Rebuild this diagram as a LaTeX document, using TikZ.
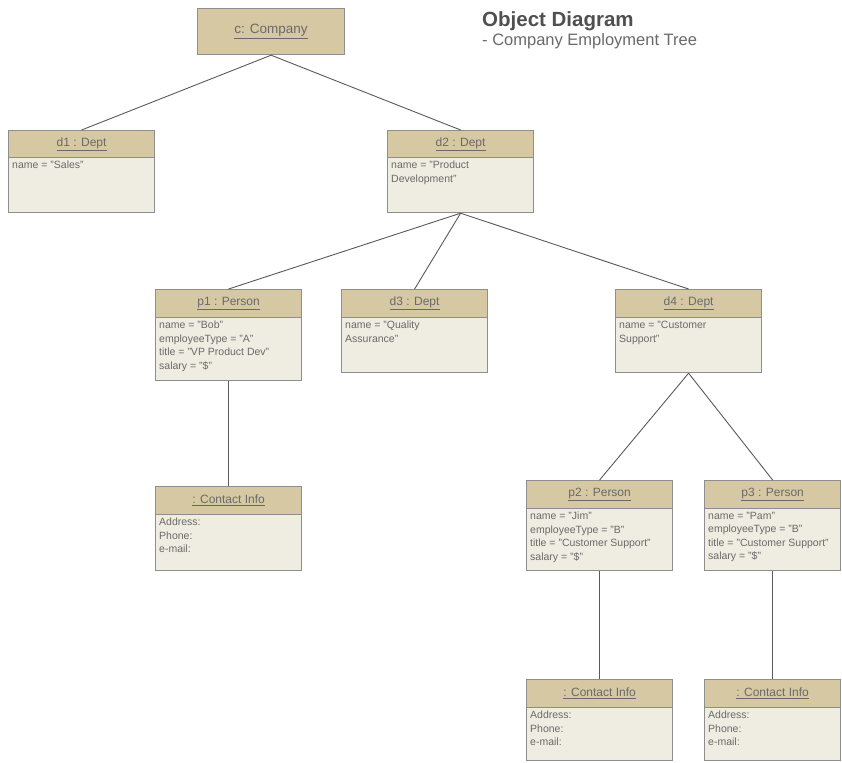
\documentclass[tikz,border=0pt]{standalone}
\usepackage{fontspec}
\setmainfont{Liberation Sans}
\begin{document}
\definecolor{hdrfill}{HTML}{D5C8A2}
\definecolor{bodyfill}{HTML}{EFECE1}
\definecolor{boxline}{HTML}{8E8E8E}
\definecolor{linkline}{HTML}{5A5A5A}
\definecolor{txt}{HTML}{6A6A6A}
\definecolor{titletxt}{HTML}{505050}
\tikzset{
  hdr/.style={draw=boxline, line width=1.2pt, fill=hdrfill, inner sep=0pt, anchor=north west,
    text=txt, font=\fontsize{12}{14}\selectfont},
  bdy/.style={draw=boxline, line width=1.2pt, fill=bodyfill, inner sep=0pt, anchor=north west},
  bodytext/.style={anchor=north west, inner sep=0pt, align=left, text=txt,
    font=\fontsize{10.5}{13.5}\selectfont},
  link/.style={draw=linkline, line width=0.9pt},
}
% \umlobj{name}{x}{y}{width}{header height}{body height}{title}{attributes}
\newcommand{\umlobj}[8]{%
  \node[bdy, minimum width=#4pt, minimum height=#6pt] (#1b) at (#2,#3+#5) {};
  \node[hdr, minimum width=#4pt, minimum height=#5pt] (#1) at (#2,#3) {\underline{#7}};
  \node[bodytext] (#1t) at (#2+4,#3+#5+4) {#8};
}
\begin{tikzpicture}[x=1pt,y=-1pt]
\useasboundingbox (0,0) rectangle (842,762);
\fill[white] (0,0) rectangle (842,762);

% title
\node[anchor=north west, inner sep=0pt, text=titletxt, font=\fontsize{20.5}{22}\selectfont\bfseries]
  (title) at (482,11) {Object Diagram};
\node[anchor=north west, inner sep=0pt, text=txt, font=\fontsize{16.5}{18}\selectfont]
  (subtitle) at (482,33) {- Company Employment Tree};

% objects
\node[hdr, minimum width=147pt, minimum height=46pt, font=\fontsize{13.5}{15}\selectfont]
  (c) at (197,8) {\underline{c: Company}};
\umlobj{d1}{8}{130}{146}{27}{55}{d1 : Dept}{name = "Sales"}
\umlobj{d2}{387}{130}{146}{27}{55}{d2 : Dept}{name = "Product\\Development"}
\umlobj{p1}{155}{289}{146}{28}{63}{p1 : Person}{name = "Bob"\\employeeType = "A"\\title = "VP Product Dev"\\salary = "\$"}
\umlobj{d3}{341}{289}{146}{28}{55}{d3 : Dept}{name = "Quality\\Assurance"}
\umlobj{d4}{615}{289}{146}{28}{55}{d4 : Dept}{name = "Customer\\Support"}
\umlobj{ci1}{155}{486}{146}{28}{56}{: Contact Info}{Address:\\Phone:\\e-mail:}
\umlobj{p2}{526}{480}{146}{28}{62}{p2 : Person}{name = "Jim"\\employeeType = "B"\\title = "Customer Support"\\salary = "\$"}
\umlobj{p3}{704}{480}{136}{28}{62}{p3 : Person}{name = "Pam"\\employeeType = "B"\\title = "Customer Support"\\salary = "\$"}
\umlobj{ci2}{526}{679}{146}{28}{53}{: Contact Info}{Address:\\Phone:\\e-mail:}
\umlobj{ci3}{704}{679}{136}{28}{53}{: Contact Info}{Address:\\Phone:\\e-mail:}

% links
\draw[link] (c.south) -- (d1.north);
\draw[link] (c.south) -- (d2.north);
\draw[link] (d2b.south) -- (p1.north);
\draw[link] (d2b.south) -- (d3.north);
\draw[link] (d2b.south) -- (d4.north);
\draw[link] (d4b.south) -- (p2.north);
\draw[link] (d4b.south) -- (p3.north);
\draw[link] (p1b.south) -- (ci1.north);
\draw[link] (p2b.south) -- (ci2.north);
\draw[link] (p3b.south) -- (ci3.north);
\end{tikzpicture}
\end{document}
